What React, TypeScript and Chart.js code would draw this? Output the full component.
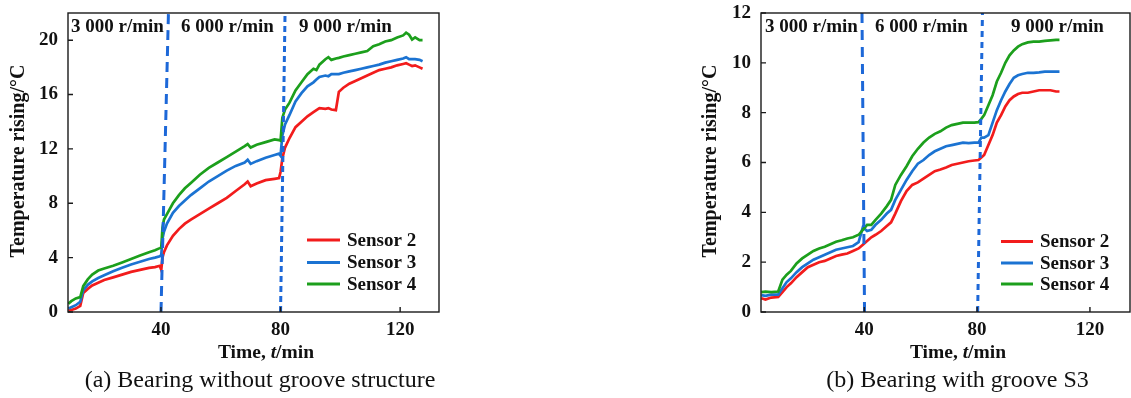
import React, { useEffect, useRef } from "react";
import { Chart, registerables } from "chart.js";

Chart.register(...registerables);

const seriesLabels = ["Sensor 2", "Sensor 3", "Sensor 4"];
const seriesColors = ["#f21c1c", "#1b73d2", "#1c9f1c"];
const speedLabels = ["3 000 r/min", "6 000 r/min", "9 000 r/min"];

// (a) Bearing without groove structure
const timeA = [
  9, 10, 11.5, 13, 14, 15.5, 17, 19, 21, 24, 27, 30, 33, 36, 38, 39.6, 40.1, 40.5, 41, 42, 44, 46, 48, 50, 53, 56,
  59, 62, 65, 68, 69, 70, 72, 75, 78, 79.5, 80, 80.6, 81.5, 83, 85, 87, 89, 91, 92, 93, 95, 96, 97, 98.5, 99.5, 101,
  103, 105, 107, 109, 111, 113, 115, 117, 119, 121, 122, 123, 124, 125, 126.5, 127.5,
];
const sensor2A = [
  0.1, 0.15, 0.25, 0.45, 1.4, 1.7, 1.95, 2.15, 2.35, 2.55, 2.75, 2.95, 3.1, 3.25, 3.3, 3.4, 3.1, 4.0, 4.4, 4.9, 5.6,
  6.1, 6.5, 6.8, 7.2, 7.6, 8.0, 8.4, 8.9, 9.4, 9.6, 9.25, 9.45, 9.7, 9.8, 9.85, 10.3, 11.3, 12.1, 12.8, 13.6, 14.0,
  14.4, 14.7, 14.85, 15.0, 14.95, 15.0, 14.9, 14.85, 16.2, 16.5, 16.8, 17.0, 17.2, 17.4, 17.6, 17.8, 17.9, 18.0,
  18.15, 18.25, 18.3, 18.2, 18.1, 18.15, 18.0, 17.9,
];
const sensor3A = [
  0.25, 0.35, 0.5, 0.75, 1.6, 2.0, 2.25, 2.5, 2.7, 3.0, 3.25, 3.5, 3.7, 3.9, 4.0, 4.1, 4.2, 5.4, 5.9, 6.5, 7.3, 7.8,
  8.2, 8.6, 9.1, 9.6, 10.0, 10.4, 10.75, 11.0, 11.2, 10.9, 11.1, 11.35, 11.55, 11.65, 11.5, 13.0, 13.8, 14.5, 15.5,
  16.1, 16.6, 16.9, 17.1, 17.3, 17.4, 17.35, 17.5, 17.5, 17.5, 17.6, 17.7, 17.8, 17.9, 18.0, 18.1, 18.2, 18.35,
  18.45, 18.55, 18.65, 18.75, 18.6, 18.6, 18.6, 18.55, 18.45,
];
const sensor4A = [
  0.6, 0.8, 1.0, 1.1, 1.9, 2.4, 2.75, 3.05, 3.2, 3.4, 3.65, 3.9, 4.15, 4.4, 4.55, 4.7, 4.75, 6.2, 6.8, 7.2, 8.0, 8.6,
  9.1, 9.5, 10.1, 10.6, 11.0, 11.4, 11.8, 12.2, 12.35, 12.1, 12.3, 12.5, 12.7, 12.65, 12.6, 14.3, 14.9, 15.4, 16.3,
  16.9, 17.5, 17.9, 17.8, 18.2, 18.6, 18.75, 18.55, 18.65, 18.7, 18.8, 18.9, 19.0, 19.1, 19.2, 19.55, 19.7, 19.9,
  20.0, 20.2, 20.35, 20.55, 20.4, 20.05, 20.2, 20.0, 20.0,
];
const xTicksA = [40, 80, 120];
const yTicksA = [0, 4, 8, 12, 16, 20];
const xRangeA = [8.9, 133];
const yRangeA = [0, 22];
// speed-change lines: [time at bottom, time at top]
const dividersA = [
  [40, 42.5],
  [80, 81.5],
];

// (b) Bearing with groove S3
const timeB = [
  3.5, 5, 7, 9.5, 11, 12.5, 14, 16, 18, 20, 22, 24, 26, 28, 30, 32, 34, 36, 38, 39.5, 41, 42.5, 44, 46, 48, 49.5, 51,
  53, 55, 57, 59, 61, 63, 65, 67, 69, 71, 73, 75, 77, 79, 80.5, 81.5, 82.5, 84, 85.5, 87, 88.5, 90, 91.5, 93, 94.5,
  96, 98, 100, 102, 104, 106, 108, 109.2,
];
const sensor2B = [
  0.55, 0.5, 0.58, 0.6, 0.8, 1.0, 1.15, 1.4, 1.6, 1.8, 1.9, 2.0, 2.05, 2.15, 2.25, 2.3, 2.35, 2.45, 2.55, 2.7, 2.85,
  3.0, 3.1, 3.25, 3.45, 3.6, 3.95, 4.45, 4.85, 5.1, 5.2, 5.35, 5.5, 5.65, 5.72, 5.8, 5.9, 5.95, 6.0, 6.05, 6.08, 6.1,
  6.2, 6.3, 6.7, 7.1, 7.6, 7.9, 8.25, 8.5, 8.65, 8.75, 8.8, 8.8, 8.85, 8.9, 8.9, 8.9, 8.85, 8.85,
];
const sensor3B = [
  0.68, 0.65, 0.7, 0.7, 0.95, 1.2, 1.35, 1.6, 1.8, 1.95, 2.1, 2.2, 2.3, 2.4, 2.5, 2.55, 2.6, 2.65, 2.8, 3.4, 3.25,
  3.3, 3.5, 3.7, 3.95, 4.1, 4.5, 4.9, 5.3, 5.65, 5.95, 6.1, 6.3, 6.45, 6.55, 6.65, 6.7, 6.75, 6.8, 6.78, 6.8, 6.8,
  7.0, 7.0, 7.1, 7.6, 8.1, 8.5, 8.85, 9.15, 9.4, 9.5, 9.55, 9.6, 9.6, 9.62, 9.65, 9.65, 9.65, 9.65,
];
const sensor4B = [
  0.8, 0.82, 0.8, 0.82, 1.3, 1.5, 1.65, 1.95, 2.15, 2.3, 2.45, 2.55, 2.62, 2.72, 2.82, 2.88, 2.95, 3.0, 3.1, 3.3,
  3.5, 3.5, 3.7, 3.95, 4.25, 4.5, 5.1, 5.5, 5.85, 6.25, 6.55, 6.8, 7.0, 7.15, 7.25, 7.4, 7.5, 7.55, 7.6, 7.6, 7.6,
  7.62, 7.75, 7.9, 8.3, 8.7, 9.25, 9.6, 10.0, 10.3, 10.5, 10.65, 10.75, 10.82, 10.85, 10.85, 10.88, 10.9, 10.92,
  10.92,
];
const xTicksB = [40, 80, 120];
const yTicksB = [0, 2, 4, 6, 8, 10, 12];
const xRangeB = [3.4, 134.2];
const yRangeB = [0, 12];
const dividersB = [
  [40.1, 39.2],
  [80.2, 81.9],
];

const FONT = "'Liberation Serif', 'Times New Roman', serif";
const INK = "#111";

type PanelDef = {
  time: number[];
  series: number[][];
  xTicks: number[];
  yTicks: number[];
  xRange: number[];
  yRange: number[];
  dividers: number[][];
  caption: string;
  canvasLeft: number;
  canvasWidth: number;
  yAxisWidth: number;
  padRight: number;
  dashes: number[][];
  speedX: number[];
  yTitleX: number;
  xTitleX: number;
  captionX: number;
  legendLine: number[];
  legendTextX: number;
  legendRows: number[];
};

const panels: PanelDef[] = [
  {
    time: timeA,
    series: [sensor2A, sensor3A, sensor4A],
    xTicks: xTicksA,
    yTicks: yTicksA,
    xRange: xRangeA,
    yRange: yRangeA,
    dividers: dividersA,
    caption: "(a) Bearing without groove structure",
    canvasLeft: 0,
    canvasWidth: 450,
    yAxisWidth: 68,
    padRight: 11,
    dashes: [
      [10, 6],
      [6, 4],
    ],
    speedX: [71, 181, 299],
    yTitleX: 19,
    xTitleX: 266,
    captionX: 260,
    legendLine: [307, 340],
    legendTextX: 347,
    legendRows: [240, 262.5, 284],
  },
  {
    time: timeB,
    series: [sensor2B, sensor3B, sensor4B],
    xTicks: xTicksB,
    yTicks: yTicksB,
    xRange: xRangeB,
    yRange: yRangeB,
    dividers: dividersB,
    caption: "(b) Bearing with groove S3",
    canvasLeft: 690,
    canvasWidth: 441,
    yAxisWidth: 71,
    padRight: 1,
    dashes: [
      [10, 7],
      [6, 5],
    ],
    speedX: [75, 185, 321],
    yTitleX: 21,
    xTitleX: 268,
    captionX: 267.5,
    legendLine: [311, 343],
    legendTextX: 350,
    legendRows: [241.5, 263, 284],
  },
];

function makeDecor(p: PanelDef) {
  return {
    id: "decor",
    afterDraw(chart: any) {
      const ctx = chart.ctx as CanvasRenderingContext2D;
      const a = chart.chartArea;
      const xs = chart.scales.x;
      const ys = chart.scales.y;
      ctx.save();
      // frame
      ctx.strokeStyle = "#1a1a1a";
      ctx.lineWidth = 1.4;
      ctx.strokeRect(a.left, a.top, a.right - a.left, a.bottom - a.top);
      // inward tick marks
      ctx.beginPath();
      p.xTicks.forEach((v) => {
        const px = xs.getPixelForValue(v);
        ctx.moveTo(px, a.bottom);
        ctx.lineTo(px, a.bottom - 5);
      });
      p.yTicks.forEach((v) => {
        const py = ys.getPixelForValue(v);
        ctx.moveTo(a.left, py);
        ctx.lineTo(a.left + 5, py);
      });
      ctx.stroke();

      // speed labels
      ctx.fillStyle = INK;
      ctx.textBaseline = "middle";
      ctx.textAlign = "left";
      ctx.font = `bold 19px ${FONT}`;
      speedLabels.forEach((s, i) => ctx.fillText(s, p.speedX[i], 27));

      // legend
      seriesLabels.forEach((s, i) => {
        const y = p.legendRows[i];
        ctx.strokeStyle = seriesColors[i];
        ctx.lineWidth = 3;
        ctx.beginPath();
        ctx.moveTo(p.legendLine[0], y);
        ctx.lineTo(p.legendLine[1], y);
        ctx.stroke();
        ctx.fillStyle = INK;
        ctx.fillText(s, p.legendTextX, y + 1);
      });

      // y title
      ctx.save();
      ctx.translate(p.yTitleX, 161);
      ctx.rotate(-Math.PI / 2);
      ctx.textAlign = "center";
      ctx.font = `bold 20px ${FONT}`;
      ctx.fillText("Temperature rising/\u00B0C", 0, 0);
      ctx.restore();

      // x title with italic t
      const parts = [
        { t: "Time, ", f: `bold 19.5px ${FONT}` },
        { t: "t", f: `italic bold 19.5px ${FONT}` },
        { t: "/min", f: `bold 19.5px ${FONT}` },
      ];
      let total = 0;
      parts.forEach((q) => {
        ctx.font = q.f;
        total += ctx.measureText(q.t).width;
      });
      let x = p.xTitleX - total / 2;
      ctx.textAlign = "left";
      parts.forEach((q) => {
        ctx.font = q.f;
        ctx.fillText(q.t, x, 353);
        x += ctx.measureText(q.t).width;
      });

      // caption
      ctx.font = `24px ${FONT}`;
      ctx.textAlign = "center";
      ctx.fillText(p.caption, p.captionX, 381);
      ctx.restore();
    },
  };
}

function buildConfig(p: PanelDef): any {
  const datasets: any[] = [];
  p.dividers.forEach(([b, t], i) => {
    datasets.push({
      label: "speed change " + (i + 1),
      data: [
        { x: b, y: p.yRange[0] },
        { x: t, y: p.yRange[1] },
      ],
      borderColor: "#1d68d8",
      borderWidth: 3,
      borderDash: p.dashes[i],
      pointRadius: 0,
      fill: false,
      order: 0,
    });
  });
  p.series.forEach((vals, i) => {
    datasets.push({
      label: seriesLabels[i],
      data: p.time.map((t, j) => ({ x: t, y: vals[j] })),
      borderColor: seriesColors[i],
      borderWidth: 2.7,
      pointRadius: 0,
      tension: 0,
      fill: false,
      order: 3 - i,
    });
  });
  const tickFont = { family: FONT, size: 19, weight: "bold" as const };
  return {
    type: "line",
    data: { datasets },
    options: {
      animation: false,
      responsive: false,
      maintainAspectRatio: false,
      layout: { padding: { left: 0, right: p.padRight, top: 13, bottom: 0 } },
      plugins: { legend: { display: false }, tooltip: { enabled: false } },
      scales: {
        x: {
          type: "linear",
          min: p.xRange[0],
          max: p.xRange[1],
          afterBuildTicks: (s: any) => {
            s.ticks = p.xTicks.map((v) => ({ value: v }));
          },
          afterFit: (s: any) => {
            s.height = 86;
            s.paddingLeft = 0;
            s.paddingRight = 0;
            s.paddingTop = 0;
            s.paddingBottom = 0;
          },
          grid: { display: false, drawTicks: false },
          border: { display: false },
          ticks: { font: tickFont, color: INK, padding: 7, maxRotation: 0, autoSkip: false },
        },
        y: {
          type: "linear",
          min: p.yRange[0],
          max: p.yRange[1],
          afterBuildTicks: (s: any) => {
            s.ticks = p.yTicks.map((v) => ({ value: v }));
          },
          afterFit: (s: any) => {
            s.width = p.yAxisWidth;
            s.paddingLeft = 0;
            s.paddingRight = 0;
            s.paddingTop = 0;
            s.paddingBottom = 0;
          },
          grid: { display: false, drawTicks: false },
          border: { display: false },
          ticks: { font: tickFont, color: INK, padding: 10, autoSkip: false },
        },
      },
    },
    plugins: [makeDecor(p)],
  };
}

function Panel({ p }: { p: PanelDef }) {
  const ref = useRef<HTMLCanvasElement>(null);
  useEffect(() => {
    if (!ref.current) return;
    const chart = new Chart(ref.current, buildConfig(p));
    return () => chart.destroy();
  }, [p]);
  return (
    <canvas
      ref={ref}
      width={p.canvasWidth}
      height={398}
      style={{ position: "absolute", left: p.canvasLeft, top: 0, width: p.canvasWidth, height: 398 }}
    />
  );
}

export default function App() {
  return (
    <div
      style={{
        position: "fixed",
        left: 0,
        top: 0,
        width: 1131,
        height: 398,
        background: "#fff",
        overflow: "hidden",
      }}
    >
      {panels.map((p, i) => (
        <Panel key={i} p={p} />
      ))}
    </div>
  );
}
